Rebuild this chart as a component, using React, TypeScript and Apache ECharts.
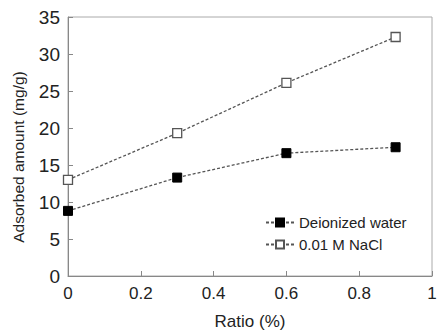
import React, { useEffect, useRef } from "react";
import * as echarts from "echarts";

const ratios = [0, 0.3, 0.6, 0.9];
const deionizedWater = [8.8, 13.3, 16.6, 17.4];
const naCl = [13.0, 19.3, 26.1, 32.3];
const seriesNames = ["Deionized water", "0.01 M NaCl"];
const yAxisTitle = "Adsorbed amount (mg/g)";
const xAxisTitle = "Ratio (%)";

export default function App() {
  const ref = useRef<HTMLDivElement>(null);
  useEffect(() => {
    if (!ref.current) return;
    const chart = echarts.init(ref.current, null, { renderer: "svg" });
    const font = "Liberation Sans, Arial, sans-serif";
    const lineColor = "#555";
    chart.setOption({
      animation: false,
      backgroundColor: "#fff",
      textStyle: { fontFamily: font, color: "#222" },
      grid: {
        left: 68,
        top: 17,
        right: 5,
        bottom: 54,
        containLabel: false,
        outerBoundsMode: "none",
        show: true,
        borderColor: "#aaa",
        borderWidth: 1,
        backgroundColor: "transparent",
      },
      graphic: [
        {
          type: "text",
          x: 18,
          y: 157,
          rotation: Math.PI / 2,
          style: {
            text: yAxisTitle,
            fontSize: 15.5,
            fontFamily: font,
            fill: "#222",
            align: "center",
            verticalAlign: "middle",
          },
        },
      ],
      legend: {
        orient: "vertical",
        left: 260,
        top: 210,
        itemWidth: 28,
        itemHeight: 10,
        itemGap: 7,
        textStyle: { fontSize: 15, color: "#222", fontFamily: font, lineHeight: 15 },
        data: seriesNames,
      },
      xAxis: {
        type: "value",
        min: 0,
        max: 1,
        interval: 0.2,
        name: xAxisTitle,
        nameLocation: "middle",
        nameGap: 37,
        nameTextStyle: { fontSize: 17, color: "#222", fontFamily: font },
        axisLine: { show: true, lineStyle: { color: "#888", width: 1 } },
        axisTick: { show: true, inside: true, length: 5, lineStyle: { color: "#888" } },
        axisLabel: {
          fontSize: 17,
          color: "#222",
          margin: 9,
          fontFamily: font,
          formatter: (v: number) => String(+v.toFixed(1)),
        },
        splitLine: { show: false },
      },
      yAxis: {
        type: "value",
        min: 0,
        max: 35,
        interval: 5,
        axisLine: { show: true, lineStyle: { color: "#888", width: 1 } },
        axisTick: { show: true, inside: true, length: 5, lineStyle: { color: "#888" } },
        axisLabel: { fontSize: 19, color: "#222", margin: 8, fontFamily: font },
        splitLine: { show: false },
      },
      series: [
        {
          name: seriesNames[0],
          type: "line",
          data: ratios.map((x, i) => [x, deionizedWater[i]]),
          symbol: "rect",
          symbolSize: 9,
          itemStyle: { color: "#000", borderColor: "#000", borderWidth: 1 },
          lineStyle: { color: lineColor, width: 1.3, type: [3, 2] },
        },
        {
          name: seriesNames[1],
          type: "line",
          data: ratios.map((x, i) => [x, naCl[i]]),
          symbol: "rect",
          symbolSize: 9,
          itemStyle: { color: "#fff", borderColor: "#555", borderWidth: 1.3 },
          lineStyle: { color: lineColor, width: 1.3, type: [3, 2] },
        },
      ],
    });
    return () => chart.dispose();
  }, []);
  return (
    <div
      ref={ref}
      style={{ position: "fixed", left: 0, top: 0, width: 437, height: 330 }}
    />
  );
}
